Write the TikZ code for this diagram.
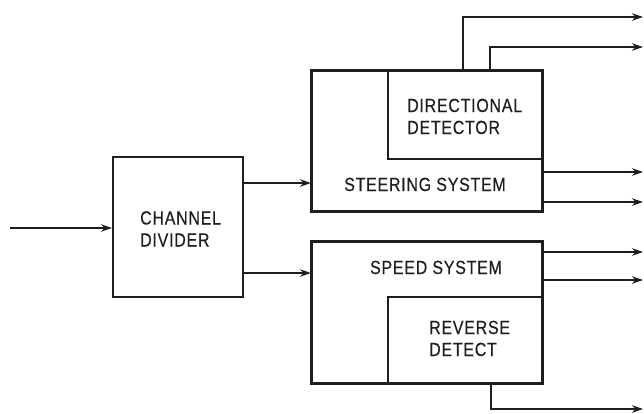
\documentclass[tikz,border=0pt]{standalone}
\usepackage{fontspec}
\setmainfont{Liberation Sans}[FakeStretch=0.84, LetterSpace=4, FakeBold=0.4]
\usetikzlibrary{arrows.meta}
\definecolor{ink}{HTML}{1E1E1E}
\tikzset{
  outerbox/.style={draw=ink, line width=2.1pt, minimum width=#1, inner sep=0pt},
  innerbox/.style={draw=ink, line width=1.3pt, inner sep=0pt},
  lbl/.style={text=ink, font=\fontsize{19}{22}\selectfont, inner sep=0pt, align=left},
  arr/.style={draw=ink, line width=1.4pt, -{Stealth[length=11pt,width=7.5pt]}},
}
\begin{document}
\begin{tikzpicture}[x=1pt,y=-1pt]
\useasboundingbox (0,0) rectangle (644,413);
% boxes
\node[outerbox=130pt, minimum height=140pt] (chan) at (178,227) {};
\node[outerbox=230pt, minimum height=140pt] (steer) at (427,141) {};
\node[outerbox=230pt, minimum height=141pt] (speed) at (427,312.5) {};
\node[innerbox, minimum width=154pt, minimum height=88pt] (dir) at (465,115) {};
\node[innerbox, minimum width=154pt, minimum height=86pt] (rev) at (465,340) {};
% redraw outer frames on top
\draw[draw=ink, line width=2.1pt] (steer.north west) rectangle (steer.south east);
\draw[draw=ink, line width=2.1pt] (speed.north west) rectangle (speed.south east);
% labels (base anchor = last line)
\node[lbl, anchor=base west] (tchan) at (140,246.5) {CHANNEL\\DIVIDER};
\node[lbl, anchor=base] (tsteer) at (425,191) {STEERING SYSTEM};
\node[lbl, anchor=base] (tspeed) at (436,274) {SPEED SYSTEM};
\node[lbl, anchor=base west] (tdir) at (407,134) {DIRECTIONAL\\DETECTOR};
\node[lbl, anchor=base west] (trev) at (429,356) {REVERSE\\DETECT};
% coordinates
\coordinate (in) at (10,228);
\coordinate (ya) at (0,183);
\coordinate (yb) at (0,273);
\coordinate (x1) at (463,0);
\coordinate (x2) at (490,0);
\coordinate (x3) at (491,0);
\coordinate (o1) at (643,17);
\coordinate (o2) at (643,47);
\coordinate (o3) at (643,172);
\coordinate (o4) at (643,202);
\coordinate (o5) at (643,252);
\coordinate (o6) at (643,280);
\coordinate (o7) at (643,409);
% connectors
\draw[arr] (in) -- (chan.west |- in);
\draw[arr] (chan.east |- ya) -- (steer.west |- ya);
\draw[arr] (chan.east |- yb) -- (speed.west |- yb);
\draw[arr] (steer.north -| x1) |- (o1);
\draw[arr] (steer.north -| x2) |- (o2);
\draw[arr] (steer.east |- o3) -- (o3);
\draw[arr] (steer.east |- o4) -- (o4);
\draw[arr] (speed.east |- o5) -- (o5);
\draw[arr] (speed.east |- o6) -- (o6);
\draw[arr] (speed.south -| x3) |- (o7);
\end{tikzpicture}
\end{document}
